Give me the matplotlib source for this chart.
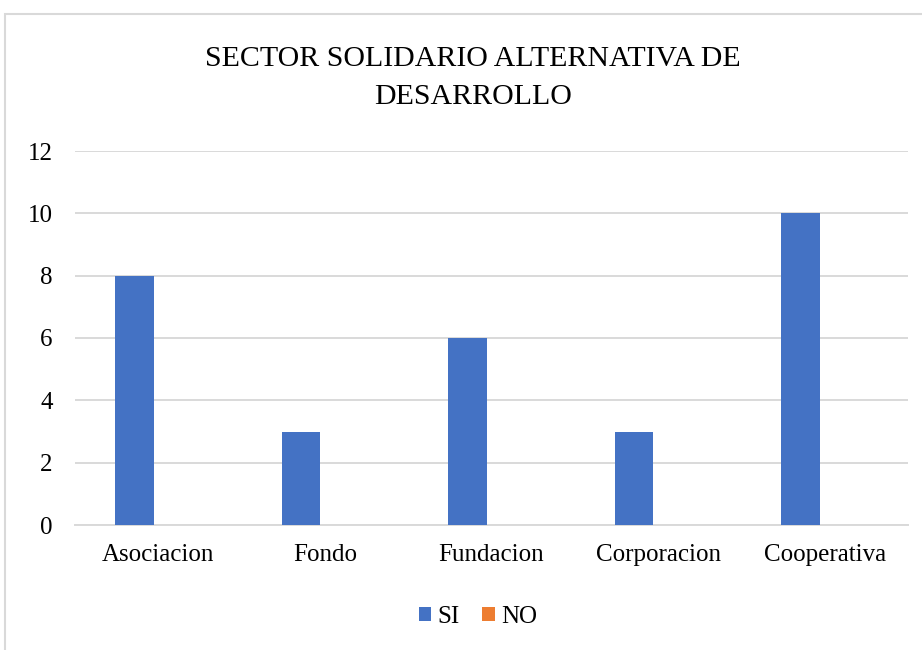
import matplotlib
matplotlib.use("Agg")
import matplotlib.pyplot as plt
import numpy as np
from matplotlib.patches import Patch, Rectangle

categories = ["Asociacion", "Fondo", "Fundacion", "Corporacion", "Cooperativa"]
si_values = [8, 3, 6, 3, 10]
no_values = [0, 0, 0, 0, 0]
series_names = ["SI", "NO"]
title_text = "SECTOR SOLIDARIO ALTERNATIVA DE\nDESARROLLO"
y_ticks = [0, 2, 4, 6, 8, 10, 12]

plt.rcParams['font.family'] = ['Liberation Serif', 'DejaVu Serif']

W, H = 922, 650
fig = plt.figure(figsize=(W / 100, H / 100), dpi=100)

# chart border
fig.patches.append(Rectangle((5 / W, -0.2), 2.0, 1 - 14 / H + 0.2,
                             transform=fig.transFigure, fill=False,
                             edgecolor="#D9D9D9", linewidth=1.5))

left, right = 75 / W, 908 / W
bottom, top = 1 - 525 / H, 1 - 151 / H
ax = fig.add_axes([left, bottom, right - left, top - bottom])

x = np.arange(len(categories))
bw = 0.231
off = 0.144
c_si, c_no = "#4472C4", "#ED7D31"
ax.bar(x - off, si_values, width=bw, color=c_si, zorder=3)
ax.bar(x + off, no_values, width=bw, color=c_no, zorder=3)

ax.set_xlim(-0.5, len(categories) - 0.5)
ax.set_ylim(0, 12)
ax.set_yticks(y_ticks)
ax.set_yticklabels([str(t) for t in y_ticks], fontsize=18)
ax.set_xticks(x)
ax.set_xticklabels(categories, fontsize=18)
ax.tick_params(axis='both', length=0)
ax.tick_params(axis='y', pad=16)
ax.tick_params(axis='x', pad=14)
ax.yaxis.grid(True, color="#D9D9D9", linewidth=1.4, zorder=0)
for s in ["top", "right", "left"]:
    ax.spines[s].set_visible(False)
ax.spines["bottom"].set_color("#D9D9D9")
ax.spines["bottom"].set_linewidth(1.4)
ax.spines["bottom"].set_zorder(2)

fig.text(473 / W, 1 - 78 / H, title_text, ha='center', va='center',
         fontsize=21.5, color="#000000", linespacing=1.62)

handles = [Patch(facecolor=c_si, edgecolor='none'),
           Patch(facecolor=c_no, edgecolor='none')]
fig.legend(handles, series_names, loc='center', bbox_to_anchor=(478 / W, 1 - 617 / H),
           ncol=2, frameon=False, fontsize=18, handlelength=0.5, handleheight=0.5,
           handletextpad=0.25, columnspacing=0.9)

fig.savefig("out.png", dpi=100)
